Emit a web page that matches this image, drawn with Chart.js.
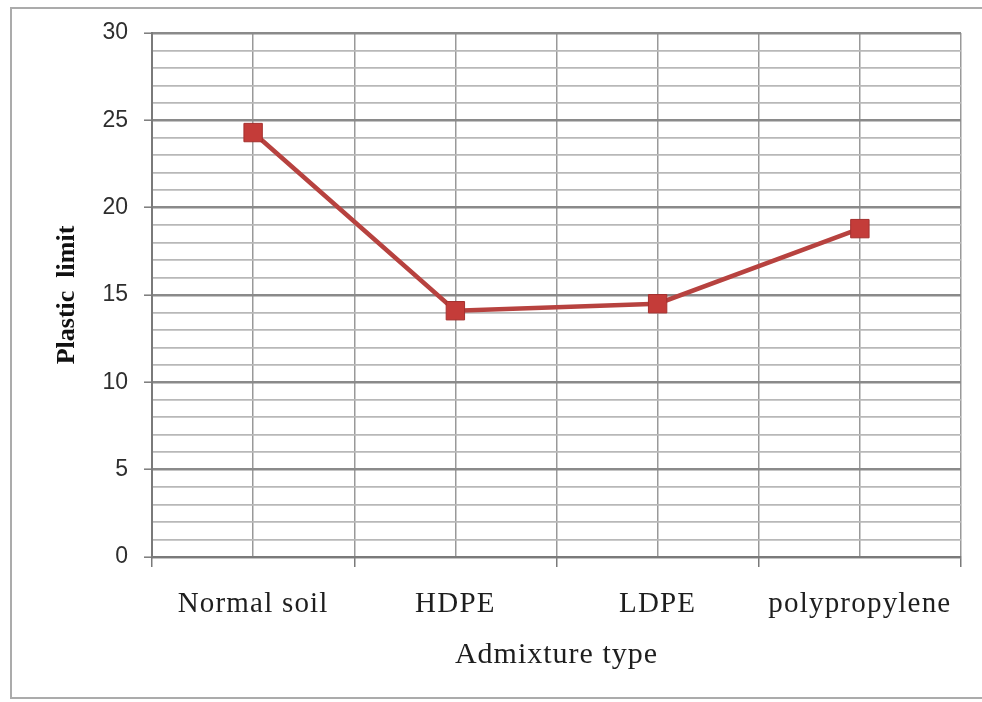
<!DOCTYPE html>
<html>
<head>
<meta charset="utf-8">
<script src="https://cdn.jsdelivr.net/npm/chart.js@4.4.1/dist/chart.umd.min.js"></script>
<style>
  html, body { margin: 0; padding: 0; background: #ffffff; }
  #wrap { position: relative; width: 982px; height: 702px; overflow: hidden; background: #ffffff; }
  #frame { position: absolute; left: 10px; top: 7px; width: 990px; height: 692px; border: 2px solid #ababab; box-sizing: border-box; }
  canvas { position: absolute; left: 0; top: 0; }
</style>
</head>
<body>
<div id="wrap">
  <div id="frame"></div>
  <canvas id="chart" width="982" height="702"></canvas>
</div>
<script>
// Plastic limit of the soil for each admixture type
const categories = ['Normal soil', 'HDPE', 'LDPE', 'polypropylene'];
const plasticLimit = [24.3, 14.1, 14.5, 18.8];
const yTickLabels = [0, 5, 10, 15, 20, 25, 30];

const SERIF = '"Liberation Serif", "Times New Roman", serif';
const SANS = '"Liberation Sans", Arial, sans-serif';

// Linear axis that draws its labels and title with a little letter spacing
class SpacedLinearScale extends Chart.LinearScale {
  drawLabels(area) {
    const c = this.ctx;
    c.save();
    c.letterSpacing = '1.2px';
    super.drawLabels(area);
    c.restore();
  }
  drawTitle() {
    const c = this.ctx;
    c.save();
    c.letterSpacing = '1px';
    super.drawTitle();
    c.restore();
  }
}
SpacedLinearScale.id = 'spacedLinear';
SpacedLinearScale.defaults = Chart.LinearScale.defaults;
Chart.register(SpacedLinearScale);

const isWhole = v => Math.abs(v - Math.round(v)) < 1e-6;

new Chart(document.getElementById('chart'), {
  type: 'line',
  data: {
    datasets: [{
      label: 'Plastic limit',
      data: plasticLimit.map((v, i) => ({ x: i, y: v })),
      borderColor: '#b7423f',
      borderWidth: 4.5,
      backgroundColor: '#c43c39',
      pointStyle: 'rect',
      pointRadius: 13,
      pointHoverRadius: 13,
      pointBackgroundColor: '#c43c39',
      pointBorderColor: '#a5302e',
      pointBorderWidth: 1,
      tension: 0
    }]
  },
  options: {
    responsive: false,
    devicePixelRatio: 1,
    animation: false,
    layout: { padding: { left: 0, right: 21, top: 33, bottom: 0 } },
    plugins: {
      legend: { display: false },
      tooltip: { enabled: false }
    },
    scales: {
      x: {
        type: 'spacedLinear',
        min: -0.5,
        max: categories.length - 0.5,
        afterFit: s => { s.height = 145; },
        border: { display: true, color: '#7a7a7a', width: 2 },
        grid: {
          color: '#999999',
          lineWidth: 1.5,
          tickLength: 10,
          tickColor: c => isWhole(c.tick.value) ? 'rgba(0,0,0,0)' : '#7a7a7a',
          tickWidth: 1.5
        },
        ticks: {
          stepSize: 0.5,
          autoSkip: false,
          maxRotation: 0,
          minRotation: 0,
          padding: 20,
          color: '#1e1e1e',
          font: { family: SERIF, size: 29 },
          callback: v => isWhole(v) ? (categories[Math.round(v)] ?? '') : ''
        },
        title: {
          display: true,
          text: 'Admixture type',
          color: '#1e1e1e',
          font: { family: SERIF, size: 30 },
          padding: { top: 0, bottom: 29 }
        }
      },
      y: {
        min: 0,
        max: 30,
        afterFit: s => { s.width = 152; },
        border: { display: true, color: '#7a7a7a', width: 2 },
        grid: {
          color: c => (c.tick.value % 5 === 0) ? '#8a8a8a' : '#b8b8b8',
          lineWidth: c => (c.tick.value % 5 === 0) ? 2.4 : 1.7,
          tickLength: 8,
          tickColor: c => yTickLabels.includes(c.tick.value) ? '#7a7a7a' : 'rgba(0,0,0,0)',
          tickWidth: 1.5
        },
        ticks: {
          stepSize: 1,
          autoSkip: false,
          padding: 16,
          color: '#2e2e2e',
          font: { family: SANS, size: 23 },
          callback: v => yTickLabels.includes(v) ? String(v) : ''
        },
        title: {
          display: true,
          text: 'Plastic  limit',
          color: '#111111',
          font: { family: SERIF, size: 26, weight: 'bold' },
          padding: { top: 52, bottom: 0 }
        }
      }
    }
  }
});
</script>
</body>
</html>
